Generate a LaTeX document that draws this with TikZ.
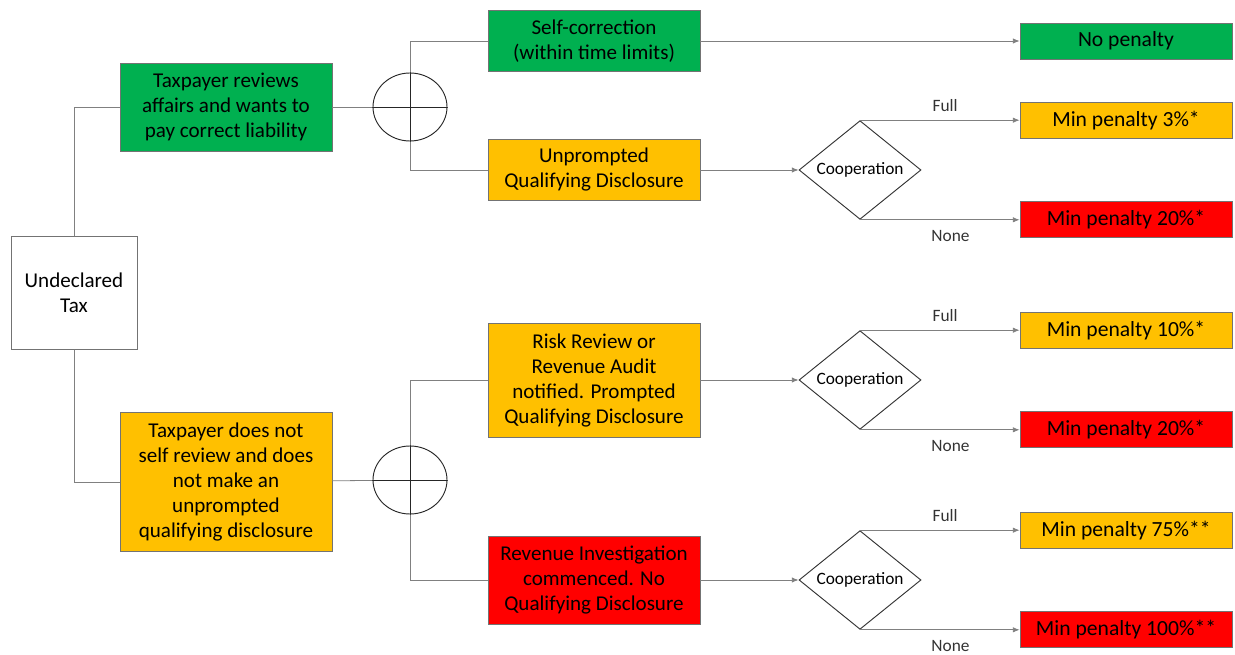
\documentclass[tikz,border=0pt]{standalone}
\usepackage{fontspec}
\setmainfont{Carlito}
\usetikzlibrary{shapes.geometric,arrows.meta}

\definecolor{taxgreen}{HTML}{00B050}
\definecolor{taxamber}{HTML}{FFC000}
\definecolor{taxred}{HTML}{FF0000}

\newcommand{\zerobox}[1]{\makebox[0pt]{\smash{\raisebox{-0.25em}{#1}}}}

\tikzset{
  box/.style={draw=black!55, line width=0.6pt, minimum width=159pt, align=center,
    inner sep=2pt, font=\fontsize{15.8}{18.75}\selectfont},
  penalty/.style={box, minimum height=27pt, font=\fontsize{16.2}{18.75}\selectfont},
  junction/.style={ellipse, draw=black!85, line width=0.7pt, minimum width=55.5pt,
    minimum height=51pt, inner sep=0pt},
  decision/.style={diamond, draw=black!80, line width=0.7pt, minimum width=91.5pt,
    minimum height=74pt, inner sep=0pt, font=\fontsize{13}{15}\selectfont},
  link/.style={draw=black!50, line width=0.6pt},
  flow/.style={link, -{Latex[length=5pt,width=4pt]}},
  choice/.style={font=\fontsize{13}{15}\selectfont, text=black!80}
}

\begin{document}
\begin{tikzpicture}[x=0.75pt, y=-0.75pt, line cap=round]
  \useasboundingbox (0,0) rectangle (1235,655);
  % root
  \node[box, fill=white, minimum width=94.5pt, minimum height=85pt] (undecl) at (74,293) {Undeclared\\Tax};
  % taxpayer side
  \node[box, fill=taxgreen, minimum height=66pt] (review) at (226,107) {Taxpayer reviews\\affairs and wants to\\pay correct liability};
  \node[box, fill=taxamber, minimum height=104pt] (noreview) at (226,482) {Taxpayer does not\\self review and does\\not make an\\unprompted\\qualifying disclosure};
  % junctions
  \node[junction] (j1) at (410,107) {};
  \node[junction] (j2) at (410,480) {};
  % disclosure routes
  \node[box, fill=taxgreen, minimum height=45.75pt] (selfcorr) at (594,41) {Self-correction\\(within time limits)};
  \node[box, fill=taxamber, minimum height=45.75pt] (unprompt) at (594,170) {Unprompted\\Qualifying Disclosure};
  \node[box, fill=taxamber, minimum height=85.5pt] (prompt) at (594,380) {Risk Review or\\Revenue Audit\\notified. Prompted\\Qualifying Disclosure};
  \node[box, fill=taxred, minimum height=66pt] (invest) at (594,580) {Revenue Investigation\\commenced. No\\Qualifying Disclosure};
  % cooperation
  \node[decision] (coop1) at (860,170) {\zerobox{Cooperation}};
  \node[decision] (coop2) at (860,380) {\zerobox{Cooperation}};
  \node[decision] (coop3) at (860,580) {\zerobox{Cooperation}};
  % outcomes
  \node[penalty, fill=taxgreen] (pnone) at (1126,41) {No penalty};
  \node[penalty, fill=taxamber] (p3) at (1126,120.5) {Min penalty 3\%*};
  \node[penalty, fill=taxred] (p20a) at (1126,219.5) {Min penalty 20\%*};
  \node[penalty, fill=taxamber] (p10) at (1126,330.5) {Min penalty 10\%*};
  \node[penalty, fill=taxred] (p20b) at (1126,429.5) {Min penalty 20\%*};
  \node[penalty, fill=taxamber] (p75) at (1126,530.5) {Min penalty 75\%**};
  \node[penalty, fill=taxred] (p100) at (1126,629.5) {Min penalty 100\%**};

  % tree lines
  \draw[link] (undecl.north) |- (review.west);
  \draw[link] (undecl.south) |- (noreview.west);
  \draw[link] (review) -- (j1);
  \draw[link] (noreview) -- (j2);
  \draw[link] (j1.north) |- (selfcorr.west);
  \draw[link] (j1.south) |- (unprompt.west);
  \draw[link] (j2.north) |- (prompt.west);
  \draw[link] (j2.south) |- (invest.west);
  % crosses in the junctions
  \foreach \j in {j1,j2}
    \draw[black!85, line width=0.7pt] (\j.north) -- (\j.south) (\j.west) -- (\j.east);
  % arrows
  \draw[flow] (selfcorr) -- (pnone);
  \draw[flow] (unprompt) -- (coop1);
  \draw[flow] (prompt) -- (coop2);
  \draw[flow] (invest) -- (coop3);
  \draw[flow] (coop1.north) -- node[choice, midway, above=3pt, xshift=4pt] (full1) {Full} (coop1.north -| p3.west);
  \draw[flow] (coop1.south) -- node[choice, midway, below=4pt, xshift=8pt] (none1) {None} (coop1.south -| p20a.west);
  \draw[flow] (coop2.north) -- node[choice, midway, above=3pt, xshift=4pt] (full2) {Full} (coop2.north -| p10.west);
  \draw[flow] (coop2.south) -- node[choice, midway, below=4pt, xshift=8pt] (none2) {None} (coop2.south -| p20b.west);
  \draw[flow] (coop3.north) -- node[choice, midway, above=3pt, xshift=4pt] (full3) {Full} (coop3.north -| p75.west);
  \draw[flow] (coop3.south) -- node[choice, midway, below=4pt, xshift=8pt] (none3) {None} (coop3.south -| p100.west);
\end{tikzpicture}
\end{document}
